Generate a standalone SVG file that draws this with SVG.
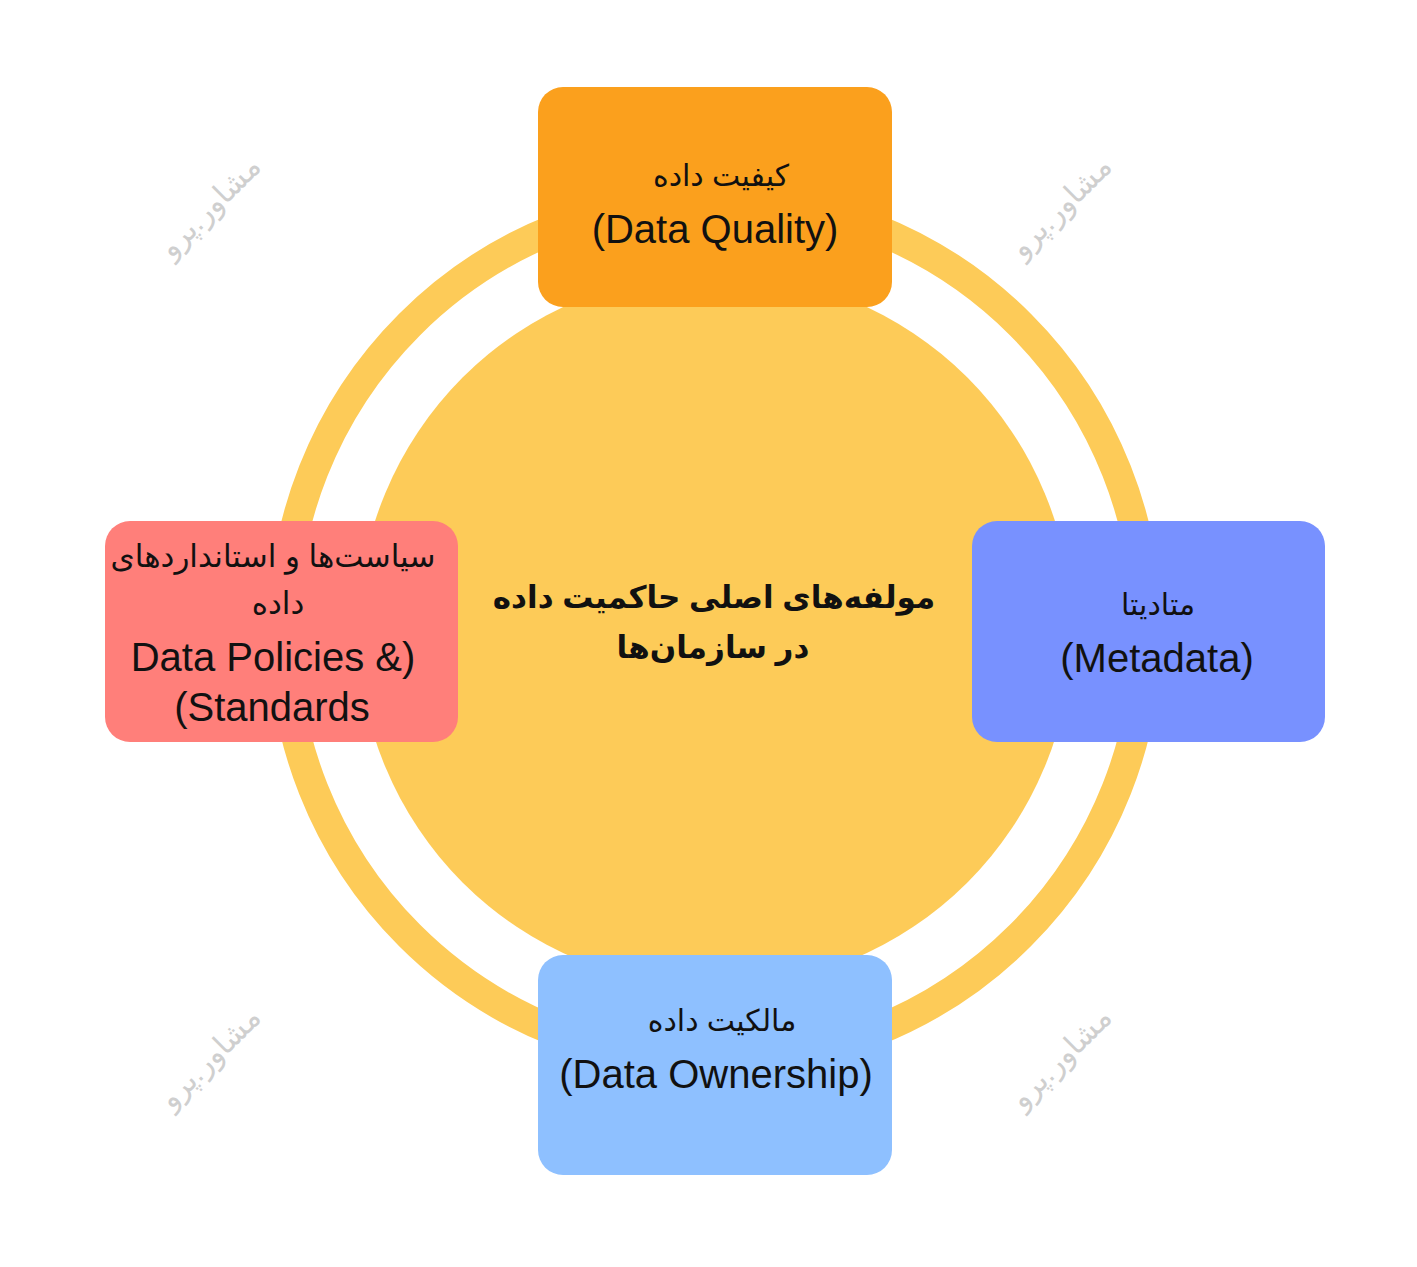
<svg xmlns="http://www.w3.org/2000/svg" width="1417" height="1267" viewBox="0 0 1417 1267">
<style>
.box{stroke:none}
.fa{font-family:"Liberation Sans","DejaVu Sans",sans-serif;font-size:30px;fill:#111;text-anchor:middle}
.fa2{font-size:31px}
.en{font-family:"Liberation Sans",Arial,sans-serif;font-size:40px;fill:#111;text-anchor:middle}
.title{font-family:"Liberation Sans","DejaVu Sans",sans-serif;font-size:31px;font-weight:bold;fill:#111;text-anchor:middle}
.wm{font-family:"Liberation Sans","DejaVu Sans",sans-serif;font-size:30px;fill:#cfcfcf;text-anchor:middle}
</style>
<rect width="1417" height="1267" fill="#ffffff"/>
<g id="watermarks">
<text class="wm" transform="translate(217,214) rotate(-45)" direction="rtl">مشاور.پرو</text>
<text class="wm" transform="translate(1068,214) rotate(-45)" direction="rtl">مشاور.پرو</text>
<text class="wm" transform="translate(217,1065) rotate(-45)" direction="rtl">مشاور.پرو</text>
<text class="wm" transform="translate(1068,1065) rotate(-45)" direction="rtl">مشاور.پرو</text>
</g>
<g id="center">
<circle cx="715" cy="630" r="432" fill="none" stroke="#FDCB58" stroke-width="30"/>
<circle cx="715" cy="630" r="357" fill="#FDCB58"/>
<text class="title" x="714" y="608" direction="rtl">مولفه‌های اصلی حاکمیت داده</text>
<text class="title" x="713" y="658" direction="rtl">در سازمان‌ها</text>
</g>
<g id="quality">
<rect class="box" x="538" y="87" width="354" height="220" rx="25" fill="#FBA01D"/>
<text class="fa" x="721" y="186" direction="rtl">کیفیت داده</text>
<text class="en" x="715" y="243">(Data Quality)</text>
</g>
<g id="policies">
<rect class="box" x="105" y="521" width="353" height="221" rx="25" fill="#FF7F7A"/>
<text class="fa fa2" x="273" y="567" direction="rtl">سیاست‌ها و استانداردهای</text>
<text class="fa fa2" x="278" y="614" direction="rtl">داده</text>
<text class="en" x="273" y="671">Data Policies &amp;)</text>
<text class="en" x="272" y="721">(Standards</text>
</g>
<g id="metadata">
<rect class="box" x="972" y="521" width="353" height="221" rx="25" fill="#7891FF"/>
<text class="fa" x="1158" y="615" direction="rtl">متادیتا</text>
<text class="en" x="1157" y="672">(Metadata)</text>
</g>
<g id="ownership">
<rect class="box" x="538" y="955" width="354" height="220" rx="25" fill="#8EC0FF"/>
<text class="fa" x="722" y="1031" direction="rtl">مالکیت داده</text>
<text class="en" x="716" y="1088">(Data Ownership)</text>
</g>
<g id="connectors"></g>
</svg>
